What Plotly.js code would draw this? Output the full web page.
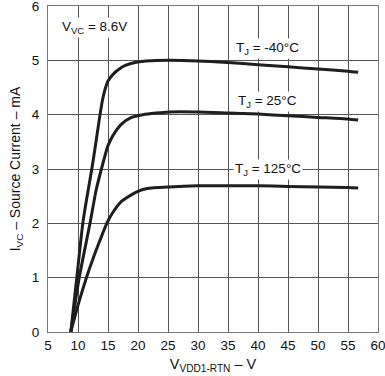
<!DOCTYPE html>
<html>
<head>
<meta charset="utf-8">
<script src="https://cdn.plot.ly/plotly-3.0.1.min.js"></script>
<style>html,body{margin:0;padding:0;background:#fff;}#chart{width:385px;height:376px;}</style>
</head>
<body>
<div id="chart"></div>
<script>
// Source current vs VDD1-RTN voltage, VVC = 8.6 V
const vM40 = [8.8, 9.8, 10.8, 11.6, 12.3, 13.0, 13.6, 14.1, 14.6, 15.0, 16.0, 17.0, 18.0, 19.5, 21.0, 23.0, 25.2, 30, 35, 40, 45, 50, 55, 56.7];
const iM40 = [0, 1.0, 2.0, 2.55, 3.0, 3.5, 3.95, 4.28, 4.5, 4.62, 4.76, 4.85, 4.91, 4.96, 4.985, 4.995, 5.0, 4.99, 4.96, 4.92, 4.88, 4.84, 4.80, 4.78];

const v25 = [8.8, 10.2, 12.0, 13.0, 13.9, 15.0, 15.8, 17.2, 18.9, 20.8, 23.0, 25.2, 30, 35, 40, 45, 50, 55, 56.7];
const i25 = [0, 1.0, 2.0, 2.6, 3.0, 3.43, 3.61, 3.82, 3.95, 4.0, 4.03, 4.05, 4.05, 4.03, 4.01, 3.98, 3.95, 3.92, 3.90];

const v125 = [8.8, 10.1, 11.4, 12.5, 13.6, 14.8, 15.8, 17.2, 18.5, 19.8, 21.5, 25.2, 30, 35, 40, 45, 50, 55, 56.7];
const i125 = [0, 0.53, 1.0, 1.35, 1.67, 2.0, 2.2, 2.4, 2.5, 2.58, 2.64, 2.67, 2.69, 2.69, 2.69, 2.68, 2.67, 2.66, 2.65];

const xTicks = [5, 10, 15, 20, 25, 30, 35, 40, 45, 50, 55, 60];
const yTicks = [0, 1, 2, 3, 4, 5, 6];

const curveLabels = ["T<sub>J</sub> = -40°C", "T<sub>J</sub> = 25°C", "T<sub>J</sub> = 125°C"];
const labelX = [41.6, 41.6, 41.6];
const labelY = [5.22, 4.25, 2.99];

const FONT = "Liberation Sans, Arial, Helvetica, sans-serif";
const lineStyle = {color: '#1e1e1e', width: 3, shape: 'spline', smoothing: 0.6};

const traces = [
  {x: vM40, y: iM40, mode: 'lines', line: lineStyle, name: '-40°C', hoverinfo: 'x+y'},
  {x: v25, y: i25, mode: 'lines', line: lineStyle, name: '25°C', hoverinfo: 'x+y'},
  {x: v125, y: i125, mode: 'lines', line: lineStyle, name: '125°C', hoverinfo: 'x+y'}
];

const annotations = curveLabels.map((t, k) => ({
  x: labelX[k], y: labelY[k], xref: 'x', yref: 'y', text: t, showarrow: false,
  font: {family: FONT, size: 13.5, color: '#111'}, bgcolor: '#fff', borderpad: 1
}));
annotations.push({
  x: 7.0, y: 5.6, xref: 'x', yref: 'y', xanchor: 'left', text: 'V<sub>VC</sub> = 8.6V',
  showarrow: false, font: {family: FONT, size: 13.5, color: '#111'}, bgcolor: '#fff', borderpad: 1
});

const layout = {
  width: 385, height: 376,
  margin: {l: 48, r: 7, t: 6, b: 44},
  paper_bgcolor: '#fff', plot_bgcolor: '#fff',
  showlegend: false,
  font: {family: FONT, size: 13, color: '#111'},
  xaxis: {
    range: [5, 60], tickvals: xTicks, ticktext: xTicks.map(String),
    showgrid: true, gridcolor: '#555', gridwidth: 1,
    showline: true, mirror: true, linecolor: '#777', linewidth: 1,
    zeroline: false, ticks: '', ticklabelstandoff: 1, ticklabeloverflow: 'allow',
    tickfont: {family: FONT, size: 13.5, color: '#111'},
    title: {text: 'V<sub>VDD1-RTN</sub> – V', font: {family: FONT, size: 14.5, color: '#111'}, standoff: 6}
  },
  yaxis: {
    range: [0, 6], tickvals: yTicks, ticktext: yTicks.map(String),
    showgrid: true, gridcolor: '#555', gridwidth: 1,
    showline: true, mirror: true, linecolor: '#777', linewidth: 1,
    zeroline: false, ticks: '', ticklabelstandoff: 5, ticklabeloverflow: 'allow',
    tickfont: {family: FONT, size: 13.5, color: '#111'},
    title: {text: 'I<sub>VC</sub> – Source Current – mA', font: {family: FONT, size: 14, color: '#111'}, standoff: 7}
  },
  annotations: annotations
};

Plotly.newPlot('chart', traces, layout, {displayModeBar: false, staticPlot: true});
</script>
</body>
</html>
